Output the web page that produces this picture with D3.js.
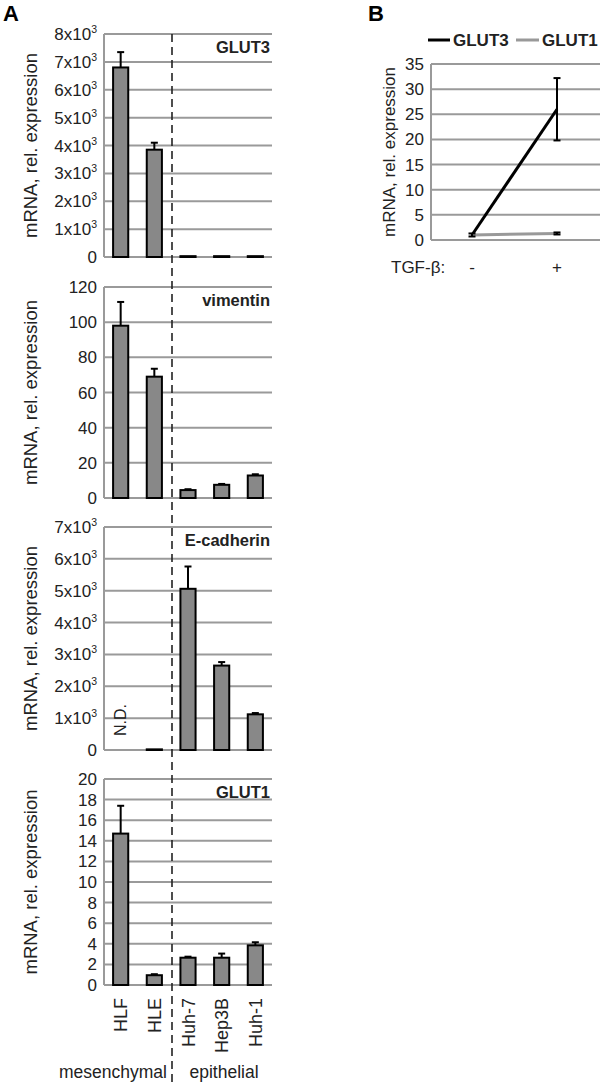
<!DOCTYPE html>
<html>
<head>
<meta charset="utf-8">
<script src="https://cdn.jsdelivr.net/npm/d3@7"></script>
<style>
  body { margin: 0; background: #fff; }
  svg { display: block; font-family: "Liberation Sans", Arial, sans-serif; }
</style>
</head>
<body>
<svg id="chart" width="600" height="1083"></svg>
<script>
// cell lines and groups
const cellLines = ["HLF", "HLE", "Huh-7", "Hep3B", "Huh-1"];
const groups = ["mesenchymal", "epithelial"];

// panel A values (mean, and upward error)
const glut3Vals = [6800, 3850, 30, 30, 30];
const glut3Err = [550, 250, 0, 0, 0];
const vimVals = [98, 69, 4.5, 7.5, 12.8];
const vimErr = [13.5, 4.5, 0.5, 0.5, 0.7];
const ecadVals = [0, 20, 5060, 2650, 1120];
const ecadErr = [0, 0, 700, 110, 40];
const glut1Vals = [14.7, 0.95, 2.65, 2.65, 3.85];
const glut1Err = [2.7, 0.1, 0.1, 0.4, 0.3];

// panel B
const tgfLevels = ["-", "+"];
const bGlut3 = [1.0, 26.0];
const bGlut3Err = [0.3, 6.2];
const bGlut1 = [1.0, 1.3];
const bGlut1Err = [0, 0.2];

const grid = "#9a9a9a";
const ink = "#222";
const svg = d3.select("#chart");

function sup3(sel, d) {
  if (d === 0) { sel.text("0"); return; }
  sel.text(null);
  sel.append("tspan").text((d / 1000) + "x10");
  sel.append("tspan").attr("dy", -7).attr("font-size", 10.5).text("3");
}

const panels = [
  {name: "GLUT3", vals: glut3Vals, err: glut3Err, max: 8000, step: 1000, sci: true, top: 34, bottom: 257},
  {name: "vimentin", vals: vimVals, err: vimErr, max: 120, step: 20, sci: false, top: 287, bottom: 498},
  {name: "E-cadherin", vals: ecadVals, err: ecadErr, max: 7000, step: 1000, sci: true, top: 527, bottom: 750},
  {name: "GLUT1", vals: glut1Vals, err: glut1Err, max: 20, step: 2, sci: false, top: 779, bottom: 985}
];

const xA = d3.scaleBand().domain(cellLines).range([104, 272]).paddingInner(0.55).paddingOuter(0.27);

panels.forEach(function(p) {
  const y = d3.scaleLinear().domain([0, p.max]).range([p.bottom, p.top]);
  const g = svg.append("g");
  const ticks = d3.range(0, p.max + p.step / 2, p.step);

  g.selectAll("line.grid").data(ticks).enter().append("line")
    .attr("x1", 104).attr("x2", 272)
    .attr("y1", d => y(d)).attr("y2", d => y(d))
    .attr("stroke", grid).attr("stroke-width", 2);
  g.append("line").attr("x1", 104).attr("x2", 104)
    .attr("y1", p.top).attr("y2", p.bottom)
    .attr("stroke", grid).attr("stroke-width", 2);

  g.selectAll("text.tick").data(ticks).enter().append("text")
    .attr("x", 97).attr("y", d => y(d) + 6)
    .attr("text-anchor", "end").attr("font-size", 17).attr("fill", ink)
    .each(function(d) {
      if (p.sci) sup3(d3.select(this), d);
      else d3.select(this).text(d);
    });

  g.append("text")
    .attr("transform", "translate(37," + ((p.top + p.bottom) / 2) + ") rotate(-90)")
    .attr("text-anchor", "middle").attr("font-size", 18.5).attr("fill", ink)
    .text("mRNA, rel. expression");

  g.append("text").attr("x", 270).attr("y", p.top + 19)
    .attr("text-anchor", "end").attr("font-size", 16.5).attr("font-weight", "bold")
    .attr("fill", ink).text(p.name);

  // error bars
  cellLines.forEach(function(c, i) {
    if (p.err[i] <= 0) return;
    const cx = xA(c) + xA.bandwidth() / 2;
    g.append("line").attr("x1", cx).attr("x2", cx)
      .attr("y1", y(p.vals[i])).attr("y2", y(p.vals[i] + p.err[i]))
      .attr("stroke", "#000").attr("stroke-width", 2);
    g.append("line").attr("x1", cx - 3.5).attr("x2", cx + 3.5)
      .attr("y1", y(p.vals[i] + p.err[i])).attr("y2", y(p.vals[i] + p.err[i]))
      .attr("stroke", "#000").attr("stroke-width", 2);
  });

  g.selectAll("rect.bar").data(p.vals).enter().append("rect")
    .attr("x", (d, i) => xA(cellLines[i]))
    .attr("width", xA.bandwidth())
    .attr("y", d => y(d))
    .attr("height", d => p.bottom - y(d))
    .attr("fill", "#888").attr("stroke", "#000").attr("stroke-width", 2);
});

// N.D. label on E-cadherin HLF
svg.append("text")
  .attr("transform", "translate(" + (xA("HLF") + xA.bandwidth() / 2 + 5) + ",736) rotate(-90)")
  .attr("font-size", 16).attr("fill", ink).text("N.D.");

// dashed separator
svg.append("line").attr("x1", 172).attr("x2", 172).attr("y1", 34).attr("y2", 1083)
  .attr("stroke", ink).attr("stroke-width", 1.6).attr("stroke-dasharray", "8,5");

// category labels
svg.selectAll("text.cat").data(cellLines).enter().append("text")
  .attr("transform", d => "translate(" + (xA(d) + xA.bandwidth() / 2 + 6.5) + ",998) rotate(-90)")
  .attr("text-anchor", "end").attr("font-size", 18).attr("fill", ink)
  .text(d => d);

svg.selectAll("text.grp").data(groups).enter().append("text")
  .attr("x", (d, i) => i === 0 ? 113 : 224).attr("y", 1078)
  .attr("text-anchor", "middle").attr("font-size", 17.5).attr("fill", ink)
  .text(d => d);

svg.append("text").attr("x", 3).attr("y", 21).attr("font-size", 22)
  .attr("font-weight", "bold").text("A");

// ---------- panel B ----------
const xB = d3.scalePoint().domain(tgfLevels).range([472, 557]);
const yB = d3.scaleLinear().domain([0, 35]).range([240, 64]);
const bt = d3.range(0, 36, 5);
const gb = svg.append("g");

gb.selectAll("line.grid").data(bt).enter().append("line")
  .attr("x1", 431).attr("x2", 600)
  .attr("y1", d => yB(d)).attr("y2", d => yB(d))
  .attr("stroke", grid).attr("stroke-width", 2);
gb.append("line").attr("x1", 431).attr("x2", 431).attr("y1", 64).attr("y2", 240)
  .attr("stroke", grid).attr("stroke-width", 2);
gb.selectAll("text.tick").data(bt).enter().append("text")
  .attr("x", 424).attr("y", d => yB(d) + 6)
  .attr("text-anchor", "end").attr("font-size", 17).attr("fill", ink)
  .text(d => d);
gb.append("text")
  .attr("transform", "translate(395,152) rotate(-90)")
  .attr("text-anchor", "middle").attr("font-size", 17).attr("fill", ink)
  .text("mRNA, rel. expression");

const lineB = d3.line().x((d, i) => xB(tgfLevels[i])).y(d => yB(d));
gb.append("path").datum(bGlut3).attr("d", lineB)
  .attr("fill", "none").attr("stroke", "#000").attr("stroke-width", 3);
gb.append("path").datum(bGlut1).attr("d", lineB)
  .attr("fill", "none").attr("stroke", "#999").attr("stroke-width", 3);

function errB(vals, errs) {
  tgfLevels.forEach(function(t, i) {
    if (errs[i] <= 0) return;
    const cx = xB(t);
    gb.append("line").attr("x1", cx).attr("x2", cx)
      .attr("y1", yB(vals[i] - errs[i])).attr("y2", yB(vals[i] + errs[i]))
      .attr("stroke", "#000").attr("stroke-width", 2);
    [vals[i] - errs[i], vals[i] + errs[i]].forEach(function(v) {
      gb.append("line").attr("x1", cx - 3.5).attr("x2", cx + 3.5)
        .attr("y1", yB(v)).attr("y2", yB(v))
        .attr("stroke", "#000").attr("stroke-width", 2);
    });
  });
}
errB(bGlut3, bGlut3Err);
errB(bGlut1, bGlut1Err);

gb.append("text").attr("x", 391).attr("y", 273).attr("font-size", 17).attr("fill", ink)
  .text("TGF-β:");
gb.selectAll("text.lvl").data(tgfLevels).enter().append("text")
  .attr("x", d => xB(d)).attr("y", 273).attr("text-anchor", "middle")
  .attr("font-size", 17).attr("fill", ink).text(d => d);

// legend
const legend = [
  {name: "GLUT3", color: "#000", x: 428, w: 22},
  {name: "GLUT1", color: "#999", x: 516, w: 23}
];
legend.forEach(function(l) {
  gb.append("line").attr("x1", l.x).attr("x2", l.x + l.w).attr("y1", 40).attr("y2", 40)
    .attr("stroke", l.color).attr("stroke-width", 3);
  gb.append("text").attr("x", l.x + l.w + 3).attr("y", 46).attr("font-size", 17)
    .attr("font-weight", "bold").attr("fill", ink).text(l.name);
});

svg.append("text").attr("x", 368).attr("y", 21).attr("font-size", 22)
  .attr("font-weight", "bold").text("B");
</script>
</body>
</html>
